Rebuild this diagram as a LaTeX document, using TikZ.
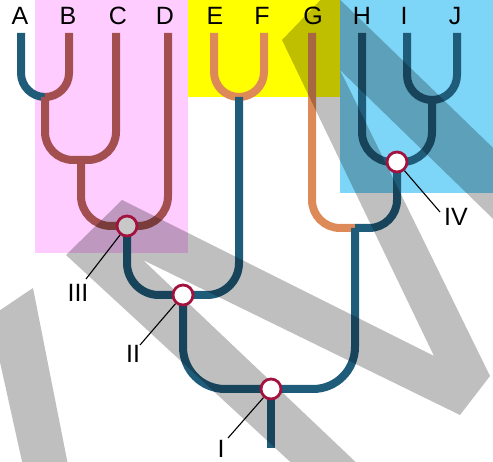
\documentclass[tikz,border=0pt]{standalone}
\usepackage{fontspec}
\setmainfont{Liberation Sans}
\definecolor{cTeal}{HTML}{1F5C7A}
\definecolor{cBrown}{HTML}{A34F50}
\definecolor{cOrange}{HTML}{DE8A58}
\definecolor{cRed}{HTML}{A3123F}
\definecolor{cPink}{HTML}{FFCCFF}
\definecolor{cYellow}{HTML}{FFFF00}
\definecolor{cBlue}{HTML}{7DD6F7}
\definecolor{cNodeGray}{HTML}{C8C8C8}
\tikzset{
  br/.style={line width=8pt, rounded corners=#1},
  wm/.style={fill=black, fill opacity=0.25},
  circ/.style={circle, draw=cRed, line width=2.8pt, fill=white, minimum size=20pt, inner sep=0pt},
  lead/.style={black, line width=1.1pt},
  lbl/.style={font=\fontsize{25}{30}\selectfont, inner sep=0pt, anchor=base}
}
\begin{document}
\begin{tikzpicture}[x=1pt,y=-1pt]
\useasboundingbox (0,0) rectangle (493,462);
\clip (0,0) rectangle (493,462);
% background panels
\fill[cPink] (35,0) rectangle (188,253);
\fill[cYellow] (188,0) rectangle (340,97);
\fill[cBlue] (340,0) rectangle (493,193);
% leaf labels
\node[lbl] (lA) at (20,25) {A};
\node[lbl] (lB) at (68,25) {B};
\node[lbl] (lC) at (118,25) {C};
\node[lbl] (lD) at (165,25) {D};
\node[lbl] (lE) at (215,25) {E};
\node[lbl] (lF) at (262,25) {F};
\node[lbl] (lG) at (313,25) {G};
\node[lbl] (lH) at (362,25) {H};
\node[lbl] (lI) at (404,25) {I};
\node[lbl] (lJ) at (455,25) {J};
% coordinates
\coordinate (tA) at (21,33);
\coordinate (tB) at (69,33);
\coordinate (tC) at (116,33);
\coordinate (tD) at (168,33);
\coordinate (tE) at (214,33);
\coordinate (tF) at (264,33);
\coordinate (tG) at (312,33);
\coordinate (tH) at (362,33);
\coordinate (tI) at (407,33);
\coordinate (tJ) at (457,33);
\coordinate (jAB) at (45,97);
\coordinate (jABC) at (81,160);
\coordinate (jEF) at (239,97);
\coordinate (jIJ) at (432,100);
\coordinate (jGH) at (355,228);
\coordinate (cIII) at (127,226);
\coordinate (cII) at (183,295);
\coordinate (cIV) at (397,162);
\coordinate (cI) at (271,389);
\coordinate (rootend) at (271,448);
% branches
\draw[br=24,cTeal] (tA) |- (jAB);
\draw[br=24,cBrown] (tB) |- (jAB);
\draw[br=28,cBrown] (jAB) |- (jABC);
\draw[br=28,cBrown] (tC) |- (jABC);
\draw[br=30,cBrown] (jABC) |- (cIII);
\draw[br=30,cBrown] (tD) |- (cIII);
\draw[br=25,cOrange] (tE) |- (jEF);
\draw[br=25,cOrange] (tF) |- (jEF);
\draw[br=32,cTeal] (cIII) |- (cII);
\draw[br=32,cTeal] (jEF) |- (cII);
\draw[br=25,cTeal] (tI) |- (jIJ);
\draw[br=25,cTeal] (tJ) |- (jIJ);
\draw[br=30,cTeal] (tH) |- (cIV);
\draw[br=30,cTeal] (jIJ) |- (cIV);
\draw[br=28,cOrange] (tG) |- (jGH);
\draw[br=28,cTeal] (cIV) |- (jGH);
\draw[br=42,cTeal] (cII) |- (cI);
\draw[br=42,cTeal] (jGH) |- (cI);
\draw[line width=8pt,cTeal] (cI) -- (rootend);
% watermark overlay
\fill[wm] (282,40) -- (330,-10) -- (520,174) -- (520,245) -- (340,70) -- (490,376)
  -- (460,415) -- (143,260) -- (364,470) -- (299,470) -- (66,255) -- (122,200)
  -- (434,356) -- cycle;
\fill[wm] (33,288) -- (-10,317) -- (25,475) -- (70,475) -- cycle;
% node circles
\node[circ, fill=cNodeGray] (nIII) at (cIII) {};
\node[circ] (nII) at (cII) {};
\node[circ] (nIV) at (cIV) {};
\node[circ] (nI) at (cI) {};
% roman labels and leaders
\node[lbl] (rIII) at (78,302) {III};
\node[lbl] (rII) at (133,363) {II};
\node[lbl] (rI) at (221,457) {I};
\node[lbl] (rIV) at (456,226) {IV};
\coordinate (eIII) at (86,279);
\coordinate (eII) at (140,345);
\coordinate (eI) at (228,438);
\coordinate (eIV) at (440,212);
\draw[lead] (nIII) -- (eIII);
\draw[lead] (nII) -- (eII);
\draw[lead] (nI) -- (eI);
\draw[lead] (nIV) -- (eIV);
\end{tikzpicture}
\end{document}
